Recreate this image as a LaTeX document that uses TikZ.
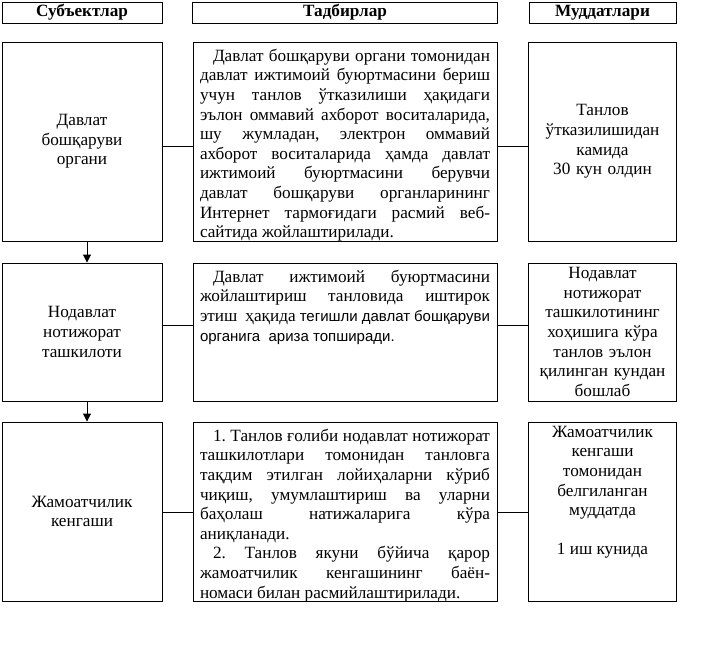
\documentclass[tikz,border=0pt]{standalone}
\usepackage{fontspec}
\setmainfont{Liberation Serif}
\newfontfamily\arialf{Liberation Sans}
\usetikzlibrary{arrows.meta}
\tikzset{
  box/.style={draw, line width=0.9pt, inner sep=0pt, font=\fontsize{17.2}{19.6}\selectfont},
  hdr/.style={box, font=\fontsize{17.2}{19.6}\selectfont\bfseries, minimum height=21pt},
  subj/.style={box, align=center, minimum width=160pt, text width=155pt},
  term/.style={box, align=center, minimum width=148pt, text width=146pt},
  act/.style={box, inner xsep=7pt, inner ysep=4pt},
  arr/.style={draw, line width=0.9pt, -{Triangle[length=8pt,width=8pt]}},
  link/.style={draw, line width=0.9pt}
}
\newcommand{\actbox}[2]{\parbox[c][#1][t]{290pt}{\frenchspacing\tolerance=10000\hbadness=10000\hfuzz=20pt\hyphenpenalty=10000\exhyphenpenalty=0 \vspace*{3pt}#2}}
\begin{document}
\begin{tikzpicture}[x=1pt,y=-1pt]
\useasboundingbox (0,0) rectangle (704,655);

% headers
\node[hdr, minimum width=160pt] (h1) at (82,12.5) {Субъектлар};
\node[hdr, minimum width=305pt] (h2) at (345,12.5) {Тадбирлар};
\node[hdr, minimum width=147pt] (h3) at (602.5,12.5) {Муддатлари};

% row 1
\node[subj, minimum height=199pt] (l1) at (82,141.5) {Давлат\\бошқаруви\\органи};
\node[act] (m1) at (345,141.5) {\actbox{191pt}{\hspace*{13pt}Давлат бошқаруви органи томонидан\linebreak
давлат ижтимоий буюртмасини бериш\linebreak
учун танлов ўтказилиши ҳақидаги\linebreak
эълон оммавий ахборот воситаларида,\linebreak
шу жумладан, электрон оммавий\linebreak
ахборот воситаларида ҳамда давлат\linebreak
ижтимоий буюртмасини берувчи\linebreak
давлат бошқаруви органларининг\linebreak
Интернет тармоғидаги расмий веб-\linebreak
сайтида жойлаштирилади.}};
\node[term, minimum height=199pt] (r1) at (602.5,141.5) {Танлов\\ўтказилишидан\\камида\\30 кун олдин};

% row 2
\node[subj, minimum height=138pt] (l2) at (82,332) {Нодавлат\\нотижорат\\ташкилоти};
\node[act] (m2) at (345,332) {\actbox{130pt}{\hspace*{13pt}Давлат ижтимоий буюртмасини\linebreak
жойлаштириш танловида иштирок\linebreak
этиш\ \ ҳақида {\arialf\fontsize{15}{19.6}\selectfont тегишли давлат бошқаруви\linebreak
органига\ \ ариза топширади.}}};
\node[term, minimum height=138pt] (r2) at (602.5,332) {Нодавлат\\нотижорат\\ташкилотининг\\хоҳишига кўра\\танлов эълон\\қилинган кундан\\бошлаб};

% row 3
\node[subj, minimum height=179pt] (l3) at (82,511.5) {Жамоатчилик\\кенгаши};
\node[act] (m3) at (345,511.5) {\actbox{171pt}{\hspace*{13pt}1. Танлов ғолиби нодавлат нотижорат\linebreak
ташкилотлари томонидан танловга\linebreak
тақдим этилган лойиҳаларни кўриб\linebreak
чиқиш, умумлаштириш ва уларни\linebreak
баҳолаш натижаларига кўра\linebreak
аниқланади.\par
\hspace*{13pt}2. Танлов якуни бўйича қарор\linebreak
жамоатчилик кенгашининг баён-\linebreak
номаси билан расмийлаштирилади.}};
\node[box, minimum width=148pt, minimum height=179pt] (r3) at (602.5,511.5) {\parbox[c][175pt][t]{146pt}{\centering\vspace*{2pt}Жамоатчилик\\кенгаши\\томонидан\\белгиланган\\муддатда\\[19.6pt]1 иш кунида}};

% connectors
\coordinate (y1) at (0,146);
\coordinate (y2) at (0,325);
\coordinate (y3) at (0,512);
\coordinate (ax) at (87,0);
\draw[link] (l1.east |- y1) -- (m1.west |- y1);
\draw[link] (m1.east |- y1) -- (r1.west |- y1);
\draw[link] (l2.east |- y2) -- (m2.west |- y2);
\draw[link] (m2.east |- y2) -- (r2.west |- y2);
\draw[link] (l3.east |- y3) -- (m3.west |- y3);
\draw[link] (m3.east |- y3) -- (r3.west |- y3);
\draw[arr] (l1.south -| ax) -- (l2.north -| ax);
\draw[arr] (l2.south -| ax) -- (l3.north -| ax);
\end{tikzpicture}
\end{document}
